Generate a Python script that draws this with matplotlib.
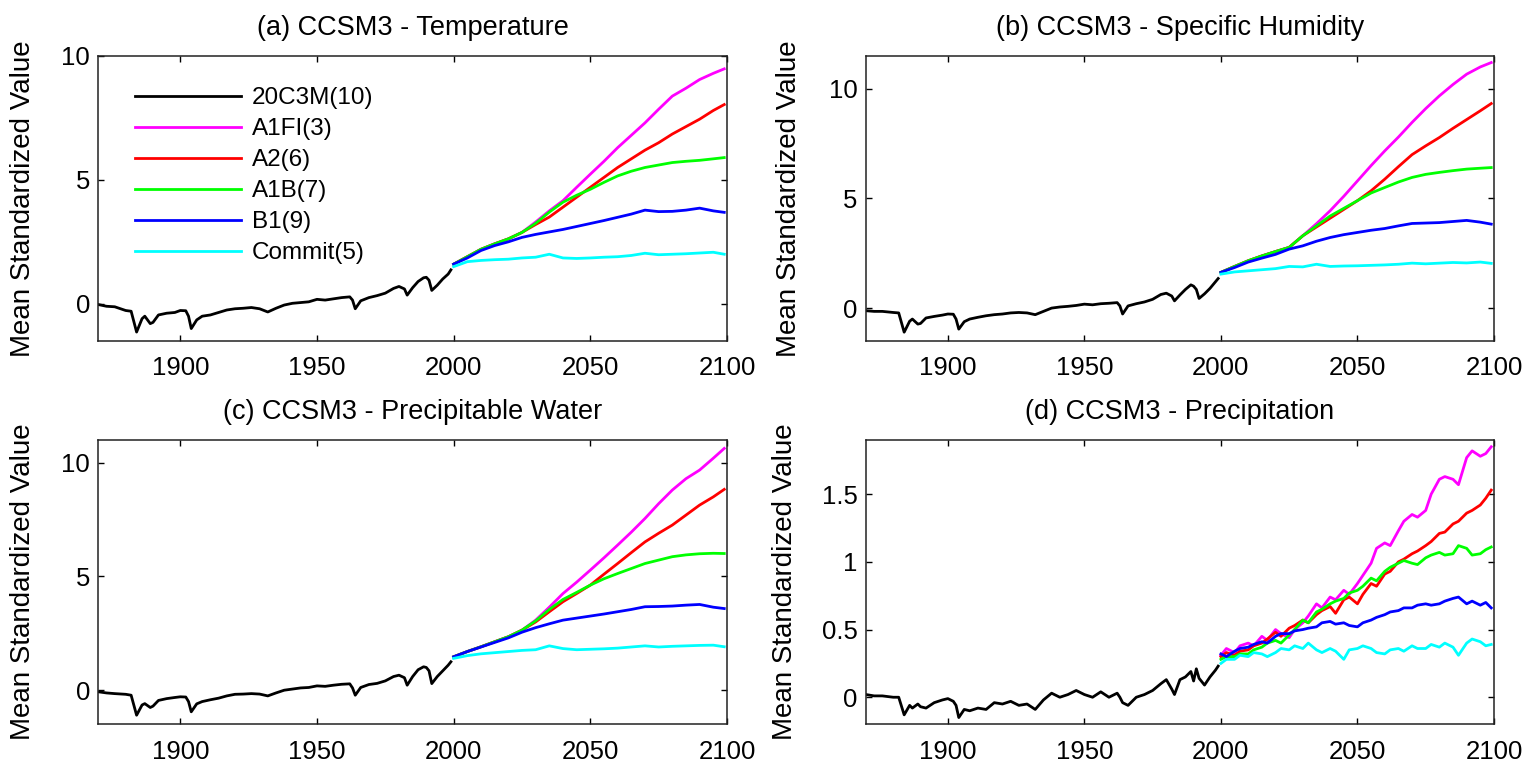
import matplotlib
matplotlib.use("Agg")
import matplotlib.pyplot as plt

# ---------------- data ----------------
hist_years = [1870, 1873, 1876, 1880, 1882, 1884, 1886, 1887, 1889, 1890, 1892, 1895, 1898,
              1900, 1902, 1903, 1904, 1906, 1908, 1911, 1914, 1917, 1920, 1923, 1926, 1929,
              1932, 1935, 1938, 1941, 1944, 1947, 1950, 1953, 1956, 1959, 1962, 1963, 1964,
              1966, 1969, 1972, 1975, 1978, 1980, 1982, 1983, 1985, 1987, 1989, 1990, 1991,
              1992, 1994, 1996, 1998, 1999]

fut_years = [2000, 2005, 2010, 2015, 2020, 2025, 2030, 2035, 2040, 2045, 2050, 2055, 2060,
             2065, 2070, 2075, 2080, 2085, 2090, 2095, 2099]

fut_years_d = [2000, 2002, 2005, 2007, 2010, 2012, 2015, 2017, 2020, 2022, 2025, 2027, 2030,
               2032, 2035, 2037, 2040, 2042, 2045, 2047, 2050, 2052, 2055, 2057, 2060, 2062,
               2065, 2067, 2070, 2072, 2075, 2077, 2080, 2082, 2085, 2087, 2090, 2092, 2095,
               2097, 2099]

labels = ["20C3M(10)", "A1FI(3)", "A2(6)", "A1B(7)", "B1(9)", "Commit(5)"]
colors = ["#000000", "#ff00ff", "#ff0000", "#00ff00", "#0000ff", "#00ffff"]

titles = ["(a) CCSM3 - Temperature", "(b) CCSM3 - Specific Humidity",
          "(c) CCSM3 - Precipitable Water", "(d) CCSM3 - Precipitation"]

# (a) Temperature
a_hist = [-0.03, -0.10, -0.12, -0.27, -0.30, -1.14, -0.60, -0.50, -0.80, -0.75, -0.45, -0.38, -0.35,
          -0.27, -0.28, -0.50, -1.00, -0.65, -0.50, -0.45, -0.35, -0.25, -0.20, -0.18, -0.15, -0.20,
          -0.33, -0.18, -0.05, 0.02, 0.05, 0.08, 0.18, 0.15, 0.20, 0.25, 0.28, 0.15, -0.20,
          0.12, 0.25, 0.33, 0.43, 0.62, 0.70, 0.60, 0.35, 0.65, 0.90, 1.05, 1.07, 0.95,
          0.54, 0.75, 1.00, 1.20, 1.37]
a_a1fi = [1.6, 1.9, 2.2, 2.42, 2.62, 2.88, 3.3, 3.75, 4.16, 4.7, 5.23, 5.75, 6.3, 6.8, 7.3, 7.85,
          8.38, 8.7, 9.05, 9.3, 9.48]
a_a2 = [1.6, 1.9, 2.2, 2.42, 2.62, 2.88, 3.2, 3.5, 3.9, 4.3, 4.7, 5.1, 5.5, 5.85, 6.2, 6.5,
        6.85, 7.15, 7.45, 7.8, 8.04]
a_a1b = [1.6, 1.9, 2.2, 2.42, 2.62, 2.88, 3.25, 3.7, 4.1, 4.38, 4.62, 4.9, 5.16, 5.35, 5.5, 5.6,
         5.7, 5.75, 5.79, 5.85, 5.9]
a_b1 = [1.6, 1.85, 2.15, 2.35, 2.5, 2.68, 2.8, 2.9, 3.0, 3.12, 3.24, 3.36, 3.49, 3.62, 3.78, 3.72,
        3.73, 3.78, 3.86, 3.75, 3.69]
a_commit = [1.5, 1.7, 1.75, 1.78, 1.8, 1.85, 1.88, 2.0, 1.85, 1.83, 1.85, 1.88, 1.9, 1.95, 2.04,
            1.98, 2.0, 2.02, 2.05, 2.08, 2.0]

# (b) Specific humidity
b_hist = [-0.12, -0.15, -0.15, -0.20, -0.22, -1.10, -0.60, -0.50, -0.73, -0.70, -0.45, -0.38, -0.32,
          -0.27, -0.28, -0.50, -0.96, -0.62, -0.50, -0.42, -0.35, -0.30, -0.27, -0.22, -0.20, -0.22,
          -0.30, -0.15, 0.00, 0.05, 0.08, 0.12, 0.18, 0.15, 0.20, 0.22, 0.25, 0.10, -0.27,
          0.10, 0.20, 0.28, 0.40, 0.62, 0.68, 0.55, 0.33, 0.60, 0.85, 1.06, 1.00, 0.85,
          0.44, 0.65, 0.90, 1.20, 1.35]
b_a1fi = [1.63, 1.9, 2.16, 2.38, 2.58, 2.77, 3.3, 3.85, 4.44, 5.1, 5.8, 6.5, 7.17, 7.8, 8.47, 9.1,
          9.68, 10.2, 10.67, 11.0, 11.2]
b_a2 = [1.63, 1.9, 2.16, 2.38, 2.58, 2.77, 3.3, 3.7, 4.1, 4.5, 4.9, 5.35, 5.88, 6.45, 7.0, 7.4,
        7.78, 8.2, 8.6, 9.0, 9.33]
b_a1b = [1.63, 1.9, 2.16, 2.38, 2.58, 2.77, 3.3, 3.75, 4.2, 4.55, 4.9, 5.25, 5.5, 5.75, 5.96, 6.1,
         6.19, 6.27, 6.34, 6.38, 6.41]
b_b1 = [1.63, 1.85, 2.1, 2.28, 2.45, 2.69, 2.84, 3.05, 3.22, 3.35, 3.45, 3.55, 3.63, 3.75, 3.86,
        3.88, 3.9, 3.95, 4.0, 3.92, 3.83]
b_commit = [1.55, 1.65, 1.7, 1.75, 1.8, 1.9, 1.88, 2.0, 1.9, 1.92, 1.93, 1.95, 1.97, 2.0, 2.05,
            2.02, 2.05, 2.08, 2.06, 2.1, 2.04]

# (c) Precipitable water
c_hist = [-0.07, -0.12, -0.15, -0.18, -0.22, -1.10, -0.65, -0.59, -0.76, -0.70, -0.45, -0.37, -0.32,
          -0.29, -0.30, -0.50, -0.95, -0.60, -0.50, -0.42, -0.35, -0.25, -0.18, -0.17, -0.15, -0.17,
          -0.25, -0.12, 0.00, 0.05, 0.10, 0.12, 0.19, 0.17, 0.22, 0.26, 0.28, 0.10, -0.22,
          0.12, 0.25, 0.30, 0.41, 0.60, 0.66, 0.55, 0.22, 0.60, 0.90, 1.03, 1.00, 0.85,
          0.29, 0.60, 0.85, 1.10, 1.25]
c_a1fi = [1.47, 1.7, 1.91, 2.13, 2.35, 2.64, 3.08, 3.65, 4.25, 4.75, 5.28, 5.82, 6.38, 6.95, 7.55,
          8.2, 8.8, 9.3, 9.68, 10.2, 10.63]
c_a2 = [1.47, 1.7, 1.91, 2.13, 2.35, 2.64, 3.0, 3.45, 3.89, 4.25, 4.62, 5.1, 5.57, 6.05, 6.52, 6.9,
        7.26, 7.7, 8.14, 8.5, 8.83]
c_a1b = [1.47, 1.7, 1.91, 2.13, 2.35, 2.64, 3.05, 3.55, 3.99, 4.3, 4.62, 4.9, 5.13, 5.35, 5.57,
         5.72, 5.87, 5.95, 6.0, 6.02, 6.01]
c_b1 = [1.47, 1.7, 1.9, 2.1, 2.3, 2.55, 2.75, 2.92, 3.08, 3.17, 3.26, 3.35, 3.45, 3.55, 3.67, 3.68,
        3.7, 3.74, 3.77, 3.65, 3.59]
c_commit = [1.4, 1.52, 1.6, 1.65, 1.7, 1.75, 1.78, 1.95, 1.83, 1.78, 1.8, 1.82, 1.85, 1.9, 1.95,
            1.9, 1.93, 1.95, 1.97, 1.98, 1.91]

# (d) Precipitation
d_hist = [0.02, 0.01, 0.01, 0.00, 0.00, -0.13, -0.06, -0.08, -0.05, -0.07, -0.08, -0.04, -0.02,
          -0.01, -0.03, -0.06, -0.15, -0.09, -0.10, -0.08, -0.09, -0.04, -0.05, -0.03, -0.06, -0.05,
          -0.09, -0.02, 0.03, 0.00, 0.02, 0.05, 0.02, 0.00, 0.04, 0.00, 0.03, 0.00, -0.04,
          -0.06, 0.00, 0.02, 0.05, 0.10, 0.13, 0.06, 0.02, 0.13, 0.15, 0.19, 0.12, 0.21,
          0.14, 0.09, 0.15, 0.20, 0.23]
d_a1fi = [0.31, 0.36, 0.33, 0.38, 0.40, 0.38, 0.45, 0.42, 0.50, 0.47, 0.44, 0.50, 0.55, 0.60, 0.69,
          0.66, 0.74, 0.72, 0.79, 0.76, 0.84, 0.90, 0.99, 1.10, 1.14, 1.12, 1.23, 1.30, 1.35, 1.33,
          1.38, 1.50, 1.61, 1.63, 1.61, 1.57, 1.77, 1.82, 1.78, 1.80, 1.85]
d_a2 = [0.30, 0.33, 0.31, 0.34, 0.35, 0.38, 0.40, 0.43, 0.48, 0.45, 0.51, 0.53, 0.57, 0.55, 0.61,
        0.64, 0.67, 0.62, 0.72, 0.74, 0.69, 0.76, 0.84, 0.82, 0.91, 0.93, 1.00, 1.02, 1.06, 1.08,
        1.12, 1.15, 1.21, 1.22, 1.28, 1.30, 1.36, 1.38, 1.42, 1.47, 1.53]
d_a1b = [0.28, 0.30, 0.30, 0.32, 0.32, 0.35, 0.37, 0.40, 0.42, 0.40, 0.46, 0.50, 0.57, 0.55, 0.63,
         0.65, 0.69, 0.71, 0.73, 0.77, 0.79, 0.82, 0.88, 0.86, 0.93, 0.96, 0.99, 1.01, 0.99, 0.98,
         1.03, 1.05, 1.07, 1.05, 1.06, 1.12, 1.10, 1.05, 1.06, 1.09, 1.11]
d_b1 = [0.32, 0.30, 0.34, 0.36, 0.37, 0.39, 0.41, 0.40, 0.45, 0.47, 0.47, 0.49, 0.50, 0.51, 0.52,
        0.55, 0.56, 0.54, 0.55, 0.53, 0.52, 0.55, 0.57, 0.59, 0.61, 0.63, 0.64, 0.66, 0.66, 0.68,
        0.69, 0.68, 0.69, 0.71, 0.73, 0.74, 0.69, 0.71, 0.68, 0.70, 0.66]
d_commit = [0.25, 0.28, 0.28, 0.31, 0.30, 0.33, 0.32, 0.30, 0.33, 0.36, 0.35, 0.38, 0.36, 0.40, 0.35,
            0.33, 0.36, 0.34, 0.28, 0.35, 0.36, 0.38, 0.36, 0.33, 0.32, 0.35, 0.36, 0.34, 0.38, 0.36,
            0.36, 0.39, 0.37, 0.40, 0.37, 0.31, 0.40, 0.43, 0.41, 0.38, 0.39]

ylims = [(-1.5, 10), (-1.5, 11.5), (-1.5, 11), (-0.2, 1.9)]
yticks = [[0, 5, 10], [0, 5, 10], [0, 5, 10], [0, 0.5, 1, 1.5]]
ytick_labels = [["0", "5", "10"], ["0", "5", "10"], ["0", "5", "10"], ["0", "0.5", "1", "1.5"]]
xticks = [1900, 1950, 2000, 2050, 2100]

# ---------------- style ----------------
plt.rcParams["font.family"] = ["Liberation Sans", "DejaVu Sans"]
fs_tick, fs_title, fs_leg, fs_ylabel = 18.5, 19.5, 17.5, 20

fig = plt.figure(figsize=(15.34, 7.69), dpi=100)
positions = [[0.0641, 0.5566, 0.4098, 0.3706],
             [0.5645, 0.5566, 0.4094, 0.3706],
             [0.0641, 0.0581, 0.4098, 0.3697],
             [0.5645, 0.0581, 0.4094, 0.3697]]
label_x = [-0.099, -0.102, -0.099, -0.108]

panels = [
    (a_hist, [a_a1fi, a_a2, a_a1b, a_b1, a_commit], fut_years),
    (b_hist, [b_a1fi, b_a2, b_a1b, b_b1, b_commit], fut_years),
    (c_hist, [c_a1fi, c_a2, c_a1b, c_b1, c_commit], fut_years),
    (d_hist, [d_a1fi, d_a2, d_a1b, d_b1, d_commit], fut_years_d),
]

for i, (hist, futs, fyears) in enumerate(panels):
    ax = fig.add_axes(positions[i])
    ax.plot(hist_years, hist, color=colors[0], lw=2.0, label=labels[0])
    for j, series in enumerate(futs):
        ax.plot(fyears, series, color=colors[j + 1], lw=2.0, label=labels[j + 1])
    ax.set_xlim(1870, 2100)
    ax.set_ylim(*ylims[i])
    ax.set_xticks(xticks)
    ax.set_xticklabels([str(t) for t in xticks])
    ax.set_yticks(yticks[i])
    ax.set_yticklabels(ytick_labels[i])
    ax.tick_params(direction="in", length=4.5, width=1.0, top=True, right=True,
                   labelsize=fs_tick, colors="#000000")
    ax.tick_params(axis="x", pad=11)
    ax.tick_params(axis="y", pad=6)
    for sp in ax.spines.values():
        sp.set_linewidth(1.1)
        sp.set_color("#222222")
    ax.set_title(titles[i], fontsize=fs_title, pad=15)
    ax.set_ylabel("Mean Standardized Value", fontsize=fs_ylabel)
    ax.yaxis.set_label_coords(label_x[i], 0.5)
    if i == 0:
        fs_px = fs_leg * 100 / 72.0
        ax.legend(loc="upper left", bbox_to_anchor=(0.059, 0.891), frameon=False,
                  fontsize=fs_leg, handlelength=106 / fs_px, handletextpad=10.5 / fs_px,
                  labelspacing=0.37, borderpad=0, borderaxespad=0)

fig.savefig("out.png", dpi=100, facecolor="white")
